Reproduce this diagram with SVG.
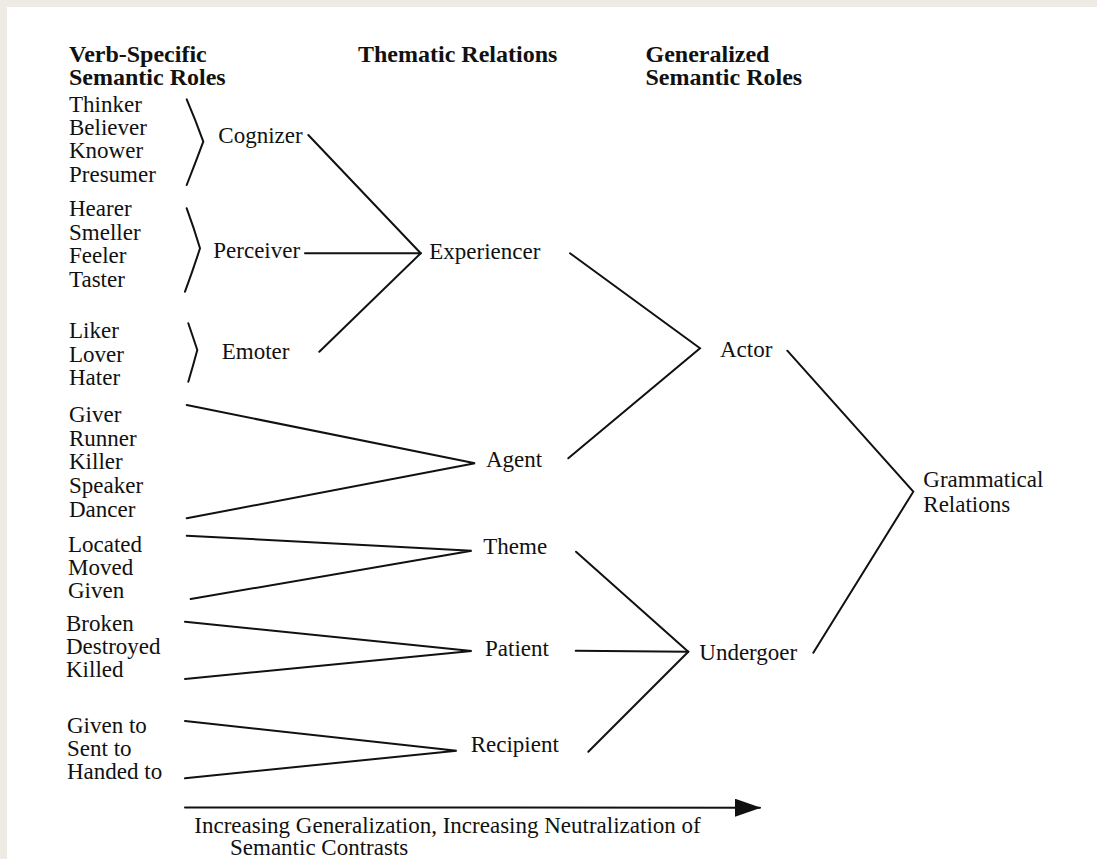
<svg xmlns="http://www.w3.org/2000/svg" width="1097" height="859" viewBox="0 0 1097 859">
<style>
text{font-family:"Liberation Serif","Times New Roman",serif;fill:#111}
.r{font-size:23px}
.h{font-size:24px;font-weight:bold}
.ln{stroke:#111;stroke-width:2;fill:none;stroke-linecap:round;stroke-linejoin:miter}
</style>
<defs>
<marker id="ah" markerWidth="26" markerHeight="18" refX="25" refY="9" orient="auto" markerUnits="userSpaceOnUse">
<path d="M0,0 L26,9 L0,18 Z" fill="#111"/>
</marker>
</defs>
<rect width="1097" height="859" fill="#eeebe5"/>
<rect x="7" y="7" width="1090" height="852" fill="#fff"/>

<g id="header-verb-specific"><text class="h" x="69" y="61.5">Verb-Specific</text><text class="h" x="69" y="85">Semantic Roles</text></g>
<g id="header-thematic"><text class="h" x="358" y="61.5">Thematic Relations</text></g>
<g id="header-generalized"><text class="h" x="645.5" y="61.5">Generalized</text><text class="h" x="645.5" y="85">Semantic Roles</text></g>

<g id="vs-cognizer" class="r"><text x="69" y="111.5">Thinker</text><text x="69" y="135">Believer</text><text x="69" y="158.3">Knower</text><text x="69" y="181.7">Presumer</text></g>
<g id="vs-perceiver" class="r"><text x="69" y="216">Hearer</text><text x="69" y="240">Smeller</text><text x="69" y="263.3">Feeler</text><text x="69" y="287">Taster</text></g>
<g id="vs-emoter" class="r"><text x="69" y="338.3">Liker</text><text x="69" y="361.7">Lover</text><text x="69" y="385">Hater</text></g>
<g id="vs-agent" class="r"><text x="69" y="421.7">Giver</text><text x="69" y="445.5">Runner</text><text x="69" y="469">Killer</text><text x="69" y="492.5">Speaker</text><text x="69" y="517">Dancer</text></g>
<g id="vs-theme" class="r"><text x="68" y="551.7">Located</text><text x="68" y="575">Moved</text><text x="68" y="598.3">Given</text></g>
<g id="vs-patient" class="r"><text x="66" y="630.7">Broken</text><text x="66" y="654">Destroyed</text><text x="66" y="677.3">Killed</text></g>
<g id="vs-recipient" class="r"><text x="67" y="732.7">Given to</text><text x="67" y="756">Sent to</text><text x="67" y="779.3">Handed to</text></g>

<g id="tr-cognizer" class="r"><text x="218.3" y="143.3">Cognizer</text></g>
<g id="tr-perceiver" class="r"><text x="213.3" y="258.3">Perceiver</text></g>
<g id="tr-emoter" class="r"><text x="221.7" y="359">Emoter</text></g>
<g id="tr-experiencer" class="r"><text x="429.3" y="259.3">Experiencer</text></g>
<g id="tr-agent" class="r"><text x="486" y="467.3">Agent</text></g>
<g id="tr-theme" class="r"><text x="483.3" y="554">Theme</text></g>
<g id="tr-patient" class="r"><text x="485" y="655.7">Patient</text></g>
<g id="tr-recipient" class="r"><text x="470.7" y="751.7">Recipient</text></g>
<g id="gr-actor" class="r"><text x="720" y="357.3">Actor</text></g>
<g id="gr-undergoer" class="r"><text x="699.3" y="660">Undergoer</text></g>
<g id="grammatical-relations" class="r"><text x="923.3" y="486.7">Grammatical</text><text x="923.3" y="511.7">Relations</text></g>
<g id="caption" class="r"><text x="194.3" y="832.7">Increasing Generalization, Increasing Neutralization of</text><text x="230" y="855">Semantic Contrasts</text></g>

<g id="connectors" class="ln">
<path d="M186.7,99.3 Q196,121 203.3,141.7 Q195,164 186.7,185"/>
<path d="M186.7,208.3 Q194,228 200,248.3 Q193,270 185,291.7"/>
<path d="M188.3,323.3 Q193,337 197.3,350 Q193,366 188.3,381.7"/>
<path d="M308.3,135 L420.7,253.3"/>
<path d="M305,253.3 L420.7,253.3"/>
<path d="M319.3,351.7 L420.7,253.3"/>
<path d="M186.7,405 L475,463.3 L186.7,518.3"/>
<path d="M186.7,535.7 L471.7,550.8 L190.7,599"/>
<path d="M185,621.7 L471.7,651 L185,679"/>
<path d="M185,721 L456.7,750.7 L185,778.3"/>
<path d="M570,253.3 L700,348.3 L568.3,458.3"/>
<path d="M576,551.7 L688.3,651.7"/>
<path d="M575.7,650.7 L688.3,651.7"/>
<path d="M588.3,751.7 L688.3,651.7"/>
<path d="M787.3,350.7 L913.3,491.7 L813.3,652.7"/>
<path d="M185,807.5 L760,807.7" marker-end="url(#ah)"/>
</g>
</svg>
